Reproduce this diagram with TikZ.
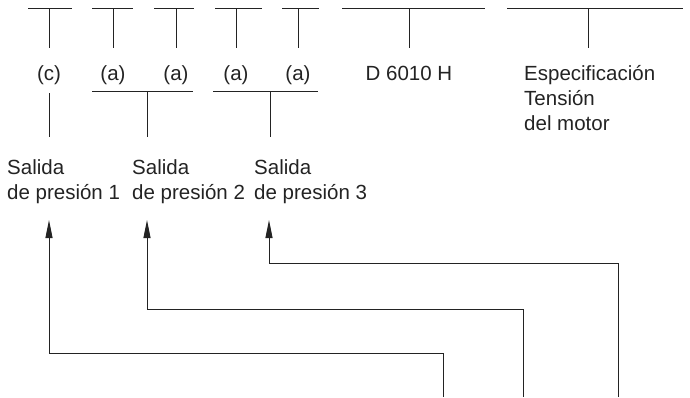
\documentclass[tikz,border=0pt]{standalone}
\usepackage{fontspec}
\setmainfont{Liberation Sans}
\usetikzlibrary{arrows.meta}
\definecolor{ink}{RGB}{35,35,35}
\begin{document}
\begin{tikzpicture}[x=1pt,y=-1pt,
  line/.style={draw=ink,line width=0.9pt},
  arr/.style={line,-{Triangle[length=18pt,width=7pt]}},
  lbl/.style={inner sep=0pt,anchor=base,text=ink,font=\fontsize{20.5}{25}\selectfont},
  lblw/.style={lbl,anchor=base west,align=left}]
\useasboundingbox (0,0) rectangle (690,397);
% top label nodes
\node[lbl] (c) at (49,80) {(c)};
\node[lbl] (a1) at (113,80) {(a)};
\node[lbl] (a2) at (176,80) {(a)};
\node[lbl] (a3) at (236,80) {(a)};
\node[lbl] (a4) at (298,80) {(a)};
\node[lbl] (d) at (409,80) {D 6010 H};
\node[lblw] (esp) at (524,130) {Especificación\\Tensión\\del motor};
% outputs
\node[lblw] (s1) at (7,199) {Salida\\de presión 1};
\node[lblw] (s2) at (132,199) {Salida\\de presión 2};
\node[lblw] (s3) at (254,199) {Salida\\de presión 3};
% top T bars
\foreach \l/\r/\m [count=\i] in {28/72/49,92/133/113,154/194/176,215/262/236,282/319/298,342/485/409,507/683/588}{
  \coordinate (tl\i) at (\l,8);
  \coordinate (tr\i) at (\r,8);
  \coordinate (tm\i) at (\m,8);
  \coordinate (tb\i) at (\m,48);
  \draw[line] (tl\i) -- (tr\i);
  \draw[line] (tm\i) -- (tb\i);
}
% lower group bars
\coordinate (c1) at (49,93); \coordinate (c2) at (49,137);
\draw[line] (c1) -- (c2);
\coordinate (g1l) at (92,91); \coordinate (g1r) at (193,91);
\coordinate (g1m) at (147,91); \coordinate (g1b) at (147,137);
\draw[line] (g1l) -- (g1r); \draw[line] (g1m) -- (g1b);
\coordinate (g2l) at (213,91); \coordinate (g2r) at (318,91);
\coordinate (g2m) at (270,91); \coordinate (g2b) at (270,137);
\draw[line] (g2l) -- (g2r); \draw[line] (g2m) -- (g2b);
% arrows
\coordinate (in1) at (443,397); \coordinate (p1) at (49,220);
\coordinate (in2) at (523,397); \coordinate (p2) at (147,220);
\coordinate (in3) at (618,397); \coordinate (p3) at (269,220);
\draw[arr] (in1) -- (443,353) -- (49,353) -- (p1);
\draw[arr] (in2) -- (523,309) -- (147,309) -- (p2);
\draw[arr] (in3) -- (618,263) -- (269,263) -- (p3);
\end{tikzpicture}
\end{document}
